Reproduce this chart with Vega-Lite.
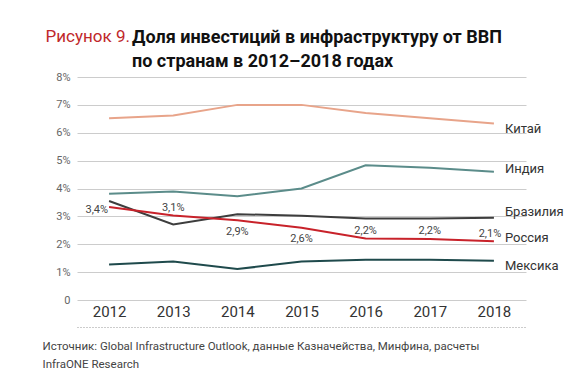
{
  "$schema": "https://vega.github.io/schema/vega-lite/v6.json",
  "autosize": {"type": "none"},
  "width": 449,
  "height": 223,
  "padding": {"left": 77, "top": 77, "right": 59, "bottom": 81},
  "background": "white",
  "config": {"view": {"stroke": null}, "font": "Roboto"},
  "title": {
    "text": ["Доля инвестиций в инфраструктуру от ВВП", "по странам в 2012–2018 годах"],
    "anchor": "start",
    "frame": "group",
    "dx": 55,
    "dy": 56,
    "offset": 12,
    "font": "Roboto",
    "fontSize": 18,
    "fontWeight": "bold",
    "color": "#111111",
    "lineHeight": 24
  },
  "data": {
    "values": [
      {"year": "2012", "country": "Китай", "value": 6.52},
      {"year": "2013", "country": "Китай", "value": 6.62},
      {"year": "2014", "country": "Китай", "value": 7.0},
      {"year": "2015", "country": "Китай", "value": 7.0},
      {"year": "2016", "country": "Китай", "value": 6.71},
      {"year": "2017", "country": "Китай", "value": 6.52},
      {"year": "2018", "country": "Китай", "value": 6.33},
      {"year": "2012", "country": "Индия", "value": 3.81},
      {"year": "2013", "country": "Индия", "value": 3.89},
      {"year": "2014", "country": "Индия", "value": 3.72},
      {"year": "2015", "country": "Индия", "value": 4.0},
      {"year": "2016", "country": "Индия", "value": 4.83},
      {"year": "2017", "country": "Индия", "value": 4.74},
      {"year": "2018", "country": "Индия", "value": 4.6},
      {"year": "2012", "country": "Бразилия", "value": 3.55},
      {"year": "2013", "country": "Бразилия", "value": 2.71},
      {"year": "2014", "country": "Бразилия", "value": 3.08},
      {"year": "2015", "country": "Бразилия", "value": 3.02},
      {"year": "2016", "country": "Бразилия", "value": 2.92},
      {"year": "2017", "country": "Бразилия", "value": 2.92},
      {"year": "2018", "country": "Бразилия", "value": 2.95},
      {"year": "2012", "country": "Россия", "value": 3.34, "label": "3,4%"},
      {"year": "2013", "country": "Россия", "value": 3.03, "label": "3,1%"},
      {"year": "2014", "country": "Россия", "value": 2.86, "label": "2,9%"},
      {"year": "2015", "country": "Россия", "value": 2.59, "label": "2,6%"},
      {"year": "2016", "country": "Россия", "value": 2.21, "label": "2,2%"},
      {"year": "2017", "country": "Россия", "value": 2.19, "label": "2,2%"},
      {"year": "2018", "country": "Россия", "value": 2.11, "label": "2,1%"},
      {"year": "2012", "country": "Мексика", "value": 1.27},
      {"year": "2013", "country": "Мексика", "value": 1.38},
      {"year": "2014", "country": "Мексика", "value": 1.11},
      {"year": "2015", "country": "Мексика", "value": 1.38},
      {"year": "2016", "country": "Мексика", "value": 1.44},
      {"year": "2017", "country": "Мексика", "value": 1.44},
      {"year": "2018", "country": "Мексика", "value": 1.41}
    ]
  },
  "encoding": {
    "x": {
      "field": "year",
      "type": "ordinal",
      "scale": {"type": "point", "padding": 0.5},
      "axis": {
        "offset": 27,
        "labelAngle": 0,
        "ticks": false,
        "tickSize": 0,
        "labelPadding": -23,
        "labelFontSize": 15,
        "labelColor": "#333333",
        "labelFont": "Roboto",
        "domain": true,
        "domainColor": "#999999",
        "domainDash": [1, 2],
        "domainWidth": 1,
        "grid": false,
        "title": ["Источник: Global Infrastructure Outlook, данные Казначейства, Минфина, расчеты", "InfraONE Research"],
        "titleX": -35,
        "titleY": 13,
        "titleAlign": "left",
        "titleAnchor": "start",
        "titleBaseline": "top",
        "titleFontSize": 11.5,
        "titleFontWeight": "normal",
        "titleColor": "#444444",
        "titleFont": "Roboto",
        "titleLineHeight": 18
      }
    },
    "y": {
      "field": "value",
      "type": "quantitative",
      "scale": {"domain": [0, 8], "nice": false},
      "axis": {
        "values": [0, 1, 2, 3, 4, 5, 6, 7, 8],
        "labelExpr": "datum.value == 0 ? '0' : datum.value + '%'",
        "domain": false,
        "ticks": false,
        "labelPadding": 7,
        "labelFontSize": 11,
        "labelColor": "#666666",
        "gridColor": "#cccccc",
        "gridWidth": 1,
        "title": "Рисунок 9.",
        "titleAngle": 0,
        "titleX": -32,
        "titleY": -41,
        "titleAlign": "left",
        "titleBaseline": "middle",
        "titleFontSize": 17,
        "titleFontWeight": "normal",
        "titleColor": "#c0282b",
        "titleFont": "Roboto"
      }
    }
  },
  "layer": [
    {
      "mark": {"type": "line", "strokeWidth": 2},
      "encoding": {
        "color": {
          "field": "country",
          "type": "nominal",
          "scale": {
            "domain": ["Китай", "Индия", "Бразилия", "Россия", "Мексика"],
            "range": ["#e8a48a", "#5b8c8a", "#3d3d3d", "#c8222a", "#1f4a4c"]
          },
          "legend": null
        }
      }
    },
    {
      "transform": [{"filter": "datum.year == '2018' && (datum.country == 'Китай' || datum.country == 'Мексика')"}],
      "mark": {"type": "text", "align": "left", "baseline": "middle", "dx": 11, "dy": 5, "fontSize": 13, "color": "#333333"},
      "encoding": {"text": {"field": "country"}}
    },
    {
      "transform": [{"filter": "datum.year == '2018' && (datum.country == 'Индия' || datum.country == 'Россия')"}],
      "mark": {"type": "text", "align": "left", "baseline": "middle", "dx": 11, "dy": -3, "fontSize": 13, "color": "#333333"},
      "encoding": {"text": {"field": "country"}}
    },
    {
      "transform": [{"filter": "datum.year == '2018' && datum.country == 'Бразилия'"}],
      "mark": {"type": "text", "align": "left", "baseline": "middle", "dx": 11, "dy": -6, "fontSize": 13, "color": "#333333"},
      "encoding": {"text": {"field": "country"}}
    },
    {
      "transform": [{"filter": "datum.country == 'Россия' && datum.year == '2012'"}],
      "mark": {"type": "text", "align": "right", "baseline": "middle", "dx": -1, "dy": 3, "fontSize": 11, "color": "#444444"},
      "encoding": {"text": {"field": "label"}}
    },
    {
      "transform": [{"filter": "datum.country == 'Россия' && (datum.year == '2013' || datum.year == '2016' || datum.year == '2017')"}],
      "mark": {"type": "text", "align": "center", "baseline": "middle", "dy": -7.5, "fontSize": 11, "color": "#444444"},
      "encoding": {"text": {"field": "label"}}
    },
    {
      "transform": [{"filter": "datum.country == 'Россия' && datum.year == '2018'"}],
      "mark": {"type": "text", "align": "center", "baseline": "middle", "dx": -4, "dy": -7.5, "fontSize": 11, "color": "#444444"},
      "encoding": {"text": {"field": "label"}}
    },
    {
      "transform": [{"filter": "datum.country == 'Россия' && (datum.year == '2014' || datum.year == '2015')"}],
      "mark": {"type": "text", "align": "center", "baseline": "middle", "dy": 11.5, "fontSize": 11, "color": "#444444"},
      "encoding": {"text": {"field": "label"}}
    }
  ]
}
